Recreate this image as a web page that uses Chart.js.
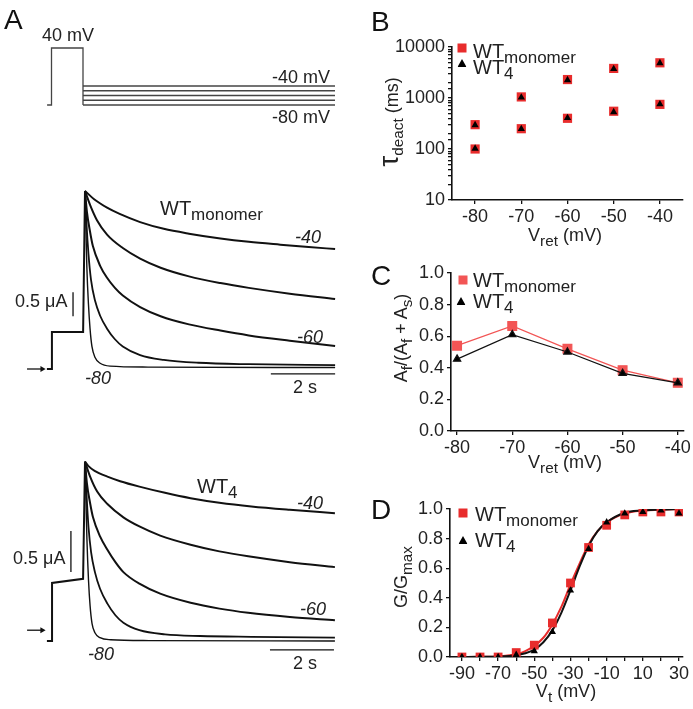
<!DOCTYPE html>
<html>
<head>
<meta charset="utf-8">
<script src="https://cdn.jsdelivr.net/npm/chart.js@4.4.1/dist/chart.umd.min.js"></script>
<style>
body { margin: 0; background: #fff; }
#fig { position: relative; width: 693px; height: 709px; overflow: hidden; background: #fff;
       font-family: "Liberation Sans", Arial, sans-serif; color: #222; }
#fig canvas { position: absolute; }
.t { position: absolute; white-space: nowrap; line-height: 1; transform: translate(0, -50%); font-size: 18px; }
.t i { font-style: italic; }
.s { font-size: .85em; position: relative; top: .32em; }
.big { font-size: 28px; color: #111; }
.wt { font-size: 20px; }
.rot { position: absolute; white-space: nowrap; line-height: 1; font-size: 18px;
       transform: translate(-50%, -50%) rotate(-90deg); }
.ctr { position: absolute; white-space: nowrap; line-height: 1; font-size: 18px; transform: translate(-50%, -50%); }
.sq { position: absolute; width: 9px; height: 9px; transform: translate(-50%, -50%); }
.tri { position: absolute; width: 9px; height: 8px; background: #000; transform: translate(-50%, -50%);
       clip-path: polygon(50% 0, 100% 100%, 0 100%); }
</style>
</head>
<body>
<div id="fig">
  <canvas id="proto" width="360" height="100" style="left:0;top:30px"></canvas>
  <canvas id="trMono" width="360" height="260" style="left:0;top:140px"></canvas>
  <canvas id="trWT4" width="360" height="309" style="left:0;top:400px"></canvas>
  <canvas id="chB" width="333" height="240" style="left:360px;top:0"></canvas>
  <canvas id="chC" width="333" height="230" style="left:360px;top:240px"></canvas>
  <canvas id="chD" width="333" height="239" style="left:360px;top:470px"></canvas>

  <!-- panel A -->
  <div class="t big" style="left:4px;top:20px">A</div>
  <div class="t" style="left:42px;top:35px">40 mV</div>
  <div class="t" style="left:272px;top:77px">-40 mV</div>
  <div class="t" style="left:272px;top:117px">-80 mV</div>

  <div class="t wt" style="left:160px;top:208px">WT<span class="s">monomer</span></div>
  <div class="t" style="left:295px;top:237px"><i>-40</i></div>
  <div class="t" style="left:297px;top:337px"><i>-60</i></div>
  <div class="t" style="left:85px;top:378px"><i>-80</i></div>
  <div class="t" style="left:15px;top:301px">0.5 μA</div>
  <div class="t" style="left:293px;top:387px">2 s</div>

  <div class="t wt" style="left:197px;top:486px">WT<span class="s">4</span></div>
  <div class="t" style="left:297px;top:503px"><i>-40</i></div>
  <div class="t" style="left:300px;top:609px"><i>-60</i></div>
  <div class="t" style="left:88px;top:654px"><i>-80</i></div>
  <div class="t" style="left:13px;top:558px">0.5 μA</div>
  <div class="t" style="left:293px;top:663px">2 s</div>

  <!-- panel B -->
  <div class="t big" style="left:371px;top:22px">B</div>
  <div class="sq" style="left:462px;top:48px;background:#e82c2c"></div>
  <div class="t wt" style="left:473px;top:51px">WT<span class="s">monomer</span></div>
  <div class="tri" style="left:462px;top:63px"></div>
  <div class="t wt" style="left:473px;top:67px">WT<span class="s">4</span></div>
  <div class="rot" style="left:389px;top:122px"><span style="font-size:28px">τ</span><span class="s">deact</span> (ms)</div>
  <div class="ctr" style="left:565px;top:235px">V<span class="s">ret</span> (mV)</div>

  <!-- panel C -->
  <div class="t big" style="left:371px;top:276px">C</div>
  <div class="sq" style="left:463px;top:280px;background:#f25555"></div>
  <div class="t wt" style="left:473px;top:280px">WT<span class="s">monomer</span></div>
  <div class="tri" style="left:461px;top:301px"></div>
  <div class="t wt" style="left:473px;top:301px">WT<span class="s">4</span></div>
  <div class="rot" style="left:401px;top:338px">A<span class="s">f</span>/(A<span class="s">f</span> + A<span class="s">s</span>)</div>
  <div class="ctr" style="left:565px;top:462px">V<span class="s">ret</span> (mV)</div>

  <!-- panel D -->
  <div class="t big" style="left:371px;top:510px">D</div>
  <div class="sq" style="left:463px;top:513px;background:#e82c2c"></div>
  <div class="t wt" style="left:475px;top:514px">WT<span class="s">monomer</span></div>
  <div class="tri" style="left:463px;top:540px"></div>
  <div class="t wt" style="left:475px;top:540px">WT<span class="s">4</span></div>
  <div class="rot" style="left:401px;top:577px">G/G<span class="s">max</span></div>
  <div class="ctr" style="left:566px;top:691px">V<span class="s">t</span> (mV)</div>
</div>

<script>
Chart.defaults.font.family = '"Liberation Sans", Arial, sans-serif';
Chart.defaults.animation = false;
Chart.defaults.responsive = false;
Chart.defaults.devicePixelRatio = 1;
Chart.defaults.plugins.legend.display = false;
Chart.defaults.plugins.tooltip.enabled = false;

// ---- panel A: voltage protocol (time s, mV)
const protoTime = [-1.14, -1.0, -1.0, 0, 0];
const protoVolt = [-80, -80, 40, 40, -80];
const retVolts = [-40, -50, -60, -70, -80];
const retStart = 0;
const retEnd = 8.0;

// ---- panel A: WT monomer currents, [time s, current uA]
const monoPre = [[-1.21, 0], [-1.05, 0], [-1.05, 0.77], [-0.06, 0.77], [0, 3.71]];
const mono40 = [[0, 3.71], [0.3, 3.53], [0.7, 3.36], [1.1, 3.23], [1.75, 3.06], [2.5, 2.92], [3.3, 2.82],
    [4.3, 2.72], [5.2, 2.65], [6.2, 2.59], [7.1, 2.54], [7.94, 2.50]];
const mono50 = [[0, 3.71], [0.16, 3.42], [0.38, 3.10], [0.7, 2.80], [1.2, 2.52], [1.75, 2.30], [2.4, 2.11],
    [3.3, 1.93], [4.3, 1.79], [5.2, 1.69], [6.5, 1.57], [7.94, 1.46]];
const mono60 = [[0, 3.71], [0.06, 3.28], [0.16, 2.86], [0.25, 2.56], [0.48, 2.15], [0.7, 1.90], [0.95, 1.69],
    [1.2, 1.53], [1.75, 1.29], [2.4, 1.10], [3.3, 0.93], [4.3, 0.80], [5.2, 0.70], [6.5, 0.59], [7.94, 0.48]];
const mono70 = [[0, 3.71], [0.05, 3.00], [0.11, 2.40], [0.19, 1.86], [0.32, 1.42], [0.48, 1.11], [0.7, 0.84],
    [0.95, 0.62], [1.2, 0.47], [1.75, 0.29], [2.5, 0.19], [3.6, 0.13], [5.2, 0.10], [7.94, 0.08]];
const mono80 = [[0, 3.71], [0.03, 2.90], [0.06, 2.10], [0.11, 1.35], [0.16, 0.84], [0.22, 0.47], [0.32, 0.24],
    [0.48, 0.12], [0.8, 0.06], [2.0, 0.04], [7.94, 0.03]];
const monoArrow = [[-1.84, 0], [-1.36, 0]];
const monoBarI = [[-0.38, 1.10], [-0.38, 1.60]];
const monoBarT = [[5.9, -0.10], [7.94, -0.10]];

// ---- panel A: WT4 currents
const wt4Pre = [[-1.19, 0], [-1.03, 0], [-1.03, 0.70], [-0.06, 0.75], [0, 2.16]];
const wt4_40 = [[0, 2.16], [0.1, 2.11], [0.3, 2.05], [0.7, 1.98], [1.1, 1.925], [1.7, 1.86], [2.5, 1.785],
    [3.3, 1.72], [4.2, 1.665], [5.2, 1.62], [6.4, 1.58], [7.81, 1.54]];
const wt4_50 = [[0, 2.16], [0.16, 1.98], [0.38, 1.80], [0.7, 1.65], [1.2, 1.49], [1.7, 1.38], [2.35, 1.27],
    [3.3, 1.16], [4.2, 1.08], [5.1, 1.02], [6.4, 0.95], [7.81, 0.89]];
const wt4_60 = [[0, 2.16], [0.06, 1.90], [0.16, 1.66], [0.25, 1.49], [0.47, 1.26], [0.7, 1.10], [0.95, 0.95],
    [1.2, 0.83], [1.7, 0.69], [2.35, 0.57], [3.3, 0.46], [4.2, 0.39], [5.1, 0.34], [6.4, 0.29], [7.81, 0.25]];
const wt4_70 = [[0, 2.16], [0.05, 1.75], [0.11, 1.37], [0.19, 1.07], [0.31, 0.83], [0.47, 0.63], [0.7, 0.45],
    [0.95, 0.31], [1.2, 0.22], [1.7, 0.13], [2.5, 0.08], [3.6, 0.06], [5.2, 0.05], [7.81, 0.04]];
const wt4_80 = [[0, 2.16], [0.03, 1.70], [0.06, 1.23], [0.11, 0.73], [0.16, 0.42], [0.22, 0.21], [0.31, 0.10],
    [0.47, 0.04], [0.8, 0.015], [2.0, 0.005], [7.81, 0]];
const wt4Arrow = [[-1.81, 0.13], [-1.34, 0.13]];
const wt4BarI = [[-0.44, 0.83], [-0.44, 1.325]];
const wt4BarT = [[5.78, -0.108], [7.78, -0.108]];

// ---- panel B: tau deact (ms)
const vret = [-80, -70, -60, -50, -40];
const tauSlowMono = [300, 1050, 2300, 3800, 4900];
const tauFastMono = [100, 250, 400, 550, 750];
const tauSlowWT4 = [295, 1030, 2250, 3700, 4850];
const tauFastWT4 = [102, 248, 405, 530, 760];
const bTicksX = [-80, -70, -60, -50, -40];
const bTicksY = [10, 100, 1000, 10000];

// ---- panel C: fast fraction
const fracMono = [0.54, 0.665, 0.52, 0.385, 0.305];
const fracWT4 = [0.455, 0.61, 0.50, 0.365, 0.305];
const cTicksY = [0, 0.2, 0.4, 0.6, 0.8, 1.0];

// ---- panel D: G/Gmax
const vt = [-90, -80, -70, -60, -50, -40, -30, -20, -10, 0, 10, 20, 30];
const gMono = [0, 0, 0, 0.03, 0.08, 0.23, 0.50, 0.74, 0.89, 0.96, 0.98, 0.98, 0.98];
const gWT4 = [0, 0, 0, 0.015, 0.04, 0.17, 0.45, 0.73, 0.91, 0.97, 0.98, 0.99, 0.97];
const fitV = [-90, -80, -70, -60, -55, -50, -45, -40, -35, -30, -25, -20, -15, -10, 0, 10, 20, 30];
const fitMono = [0, 0.001, 0.004, 0.018, 0.04, 0.075, 0.13, 0.22, 0.34, 0.49, 0.63, 0.76, 0.85, 0.91, 0.97, 0.99, 0.995, 1.0];
const fitWT4 = [0, 0.001, 0.003, 0.012, 0.025, 0.05, 0.10, 0.18, 0.30, 0.45, 0.61, 0.75, 0.85, 0.91, 0.975, 0.99, 0.997, 1.0];
const dTicksX = [-90, -80, -70, -60, -50, -40, -30, -20, -10, 0, 10, 20, 30];

const RED = '#e82c2c';
const RED_C = '#f25555';
const INK = '#111';

const xy = arr => arr.map(p => ({ x: p[0], y: p[1] }));
const zip = (xs, ys) => xs.map((x, i) => ({ x: x, y: ys[i] }));

function trace(points, width) {
    return { data: xy(points), borderColor: INK, borderWidth: width || 2, pointRadius: 0,
        cubicInterpolationMode: 'monotone', fill: false };
}
function straight(points, width, color) {
    return { data: xy(points), borderColor: color || INK, borderWidth: width || 1.5, pointRadius: 0,
        tension: 0, fill: false };
}
function arrow(points) {
    return { data: xy(points), borderColor: INK, backgroundColor: INK, borderWidth: 1.3,
        pointRadius: [0, 3.5], pointStyle: 'triangle', rotation: 90, pointBorderWidth: 0 };
}
function bare(xmin, xmax, ymin, ymax) {
    return {
        layout: { padding: 0, autoPadding: false },
        scales: {
            x: { type: 'linear', min: xmin, max: xmax, display: false },
            y: { type: 'linear', min: ymin, max: ymax, display: false }
        }
    };
}

// voltage protocol
const protoSets = [straight(protoTime.map((t, i) => [t, protoVolt[i]]), 1.3, '#444')];
retVolts.forEach(v => protoSets.push(straight([[retStart, v], [retEnd, v]], 1.3, '#444')));
new Chart(document.getElementById('proto'), {
    type: 'line',
    data: { datasets: protoSets },
    options: bare(-83 / 31.5, 277 / 31.5, -132.6, 77.9)
});

// WT monomer traces
new Chart(document.getElementById('trMono'), {
    type: 'line',
    data: { datasets: [
        straight(monoPre, 2), trace(mono40), trace(mono50), trace(mono60), trace(mono70, 1.8), trace(mono80, 1.4),
        arrow(monoArrow), straight(monoBarI, 1.3), straight(monoBarT, 1.3)
    ] },
    options: bare(-85 / 31.5, 275 / 31.5, -31 / 48, 229 / 48)
});

// WT4 traces
new Chart(document.getElementById('trWT4'), {
    type: 'line',
    data: { datasets: [
        straight(wt4Pre, 2), trace(wt4_40), trace(wt4_50), trace(wt4_60), trace(wt4_70, 1.8), trace(wt4_80, 1.4),
        arrow(wt4Arrow), straight(wt4BarI, 1.3), straight(wt4BarT, 1.3)
    ] },
    options: bare(-85 / 32, 275 / 32, -68 / 83, 241 / 83)
});

function axis(o) {
    const a = {
        type: o.type || 'linear',
        min: o.min, max: o.max,
        afterFit: s => { if (o.w) s.width = o.w; if (o.h) s.height = o.h; },
        grid: { drawOnChartArea: false, tickLength: 4, color: INK, lineWidth: 1.3 },
        border: { color: INK, width: 1.6 },
        ticks: { autoSkip: false, maxRotation: 0, padding: o.pad || 2, color: '#222',
            font: { size: 18 }, callback: o.label }
    };
    if (o.ticks) a.afterBuildTicks = s => { s.ticks = o.ticks.map(v => ({ value: v })); };
    return a;
}
function marks(xs, ys, style, color, r) {
    return { type: 'scatter', data: zip(xs, ys), pointStyle: style, pointRadius: r,
        backgroundColor: color, borderWidth: 0, showLine: false };
}

// B
new Chart(document.getElementById('chB'), {
    type: 'scatter',
    data: { datasets: [
        marks(vret, tauSlowWT4, 'triangle', '#000', 4.2),
        marks(vret, tauFastWT4, 'triangle', '#000', 4.2),
        marks(vret, tauSlowMono, 'rect', RED, 6.5),
        marks(vret, tauFastMono, 'rect', RED, 6.5)
    ] },
    options: {
        layout: { padding: { left: 0, top: 47, right: 10, bottom: 10 }, autoPadding: false },
        scales: {
            x: axis({ min: -85, max: -35, ticks: bTicksX, h: 30, pad: 0 }),
            y: axis({ type: 'logarithmic', min: 10, max: 10000, w: 92, pad: 3,
                label: v => bTicksY.includes(v) ? String(v) : '' })
        }
    }
});

// C
new Chart(document.getElementById('chC'), {
    type: 'scatter',
    data: { datasets: [
        Object.assign(marks(vret, fracWT4, 'triangle', '#000', 4.2), { showLine: true, borderColor: INK, borderWidth: 1.2 }),
        Object.assign(marks(vret, fracMono, 'rect', RED_C, 6.2), { showLine: true, borderColor: RED_C, borderWidth: 1.2 })
    ] },
    options: {
        layout: { padding: { left: 0, top: 33, right: 8, bottom: 10 }, autoPadding: false },
        scales: {
            x: axis({ min: -81.1, max: -38.9, ticks: bTicksX, h: 29, pad: 0 }),
            y: axis({ min: 0, max: 1, ticks: cTicksY, w: 91, pad: 3, label: v => v.toFixed(1) })
        }
    }
});

// D
new Chart(document.getElementById('chD'), {
    type: 'scatter',
    data: { datasets: [
        marks(vt, gWT4, 'triangle', '#000', 4.2),
        marks(vt, gMono, 'rect', RED, 6.2),
        { type: 'line', data: zip(fitV, fitWT4), borderColor: INK, borderWidth: 2, pointRadius: 0,
            cubicInterpolationMode: 'monotone' },
        { type: 'line', data: zip(fitV, fitMono), borderColor: RED, borderWidth: 2, pointRadius: 0,
            cubicInterpolationMode: 'monotone' }
    ] },
    options: {
        layout: { padding: { left: 0, top: 39, right: 10, bottom: 22 }, autoPadding: false },
        scales: {
            x: axis({ min: -96.6, max: 32.2, ticks: dTicksX, h: 30, pad: 0,
                label: v => ((v + 90) % 20 === 0 ? String(v) : '') }),
            y: axis({ min: 0, max: 1, ticks: cTicksY, w: 90, pad: 3, label: v => v.toFixed(1) })
        }
    }
});
</script>
</body>
</html>
